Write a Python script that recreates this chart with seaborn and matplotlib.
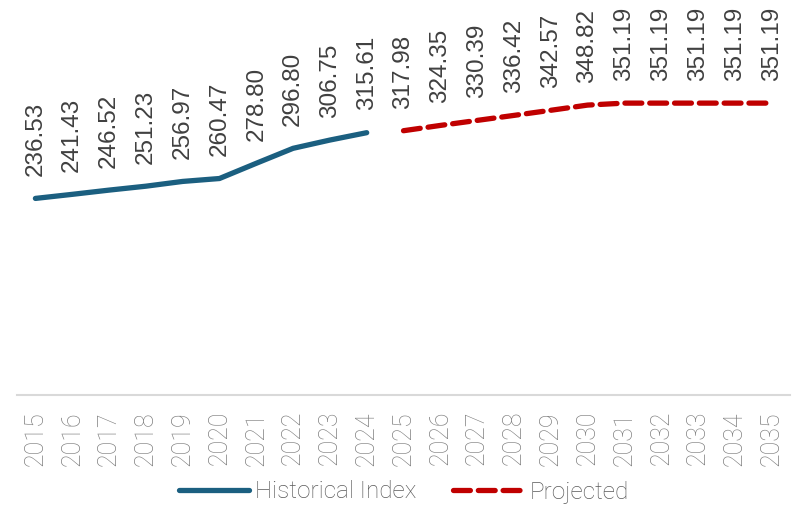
import matplotlib
matplotlib.use("Agg")
import matplotlib.pyplot as plt
import seaborn as sns
import pandas as pd

# Yearly index values: recorded history and the forward projection
hist_years = [2015, 2016, 2017, 2018, 2019, 2020, 2021, 2022, 2023, 2024]
hist_values = [236.53, 241.43, 246.52, 251.23, 256.97, 260.47, 278.80, 296.80, 306.75, 315.61]
proj_years = [2025, 2026, 2027, 2028, 2029, 2030, 2031, 2032, 2033, 2034, 2035]
proj_values = [317.98, 324.35, 330.39, 336.42, 342.57, 348.82, 351.19, 351.19, 351.19, 351.19, 351.19]

all_years = hist_years + proj_years
pos = {y: i for i, y in enumerate(all_years)}

hist_df = pd.DataFrame({"x": [pos[y] for y in hist_years], "value": hist_values})
proj_df = pd.DataFrame({"x": [pos[y] for y in proj_years], "value": proj_values})

sns.set_theme(style="white")
plt.rcParams["font.family"] = ["Liberation Sans", "DejaVu Sans"]
light_family = ["Roboto", "Liberation Sans", "DejaVu Sans"]

fig = plt.figure(figsize=(7.94, 5.05), dpi=100)
ax = fig.add_axes([17 / 794, 1 - 395 / 505, (790 - 17) / 794, (395 - 21) / 505])

blue = "#1b5f80"
red = "#c00000"

sns.lineplot(data=hist_df, x="x", y="value", ax=ax, color=blue, linewidth=3.8,
             solid_capstyle="round", label="Historical Index")
sns.lineplot(data=proj_df, x="x", y="value", ax=ax, color=red, linewidth=3.8,
             dashes=False, label="Projected")
proj_line = ax.lines[-1]
proj_line.set_dashes((3.2, 1.5))
proj_line.set_dash_capstyle("round")

# Rotated value labels above every point
for xs, vals in ((hist_df["x"], hist_values), (proj_df["x"], proj_values)):
    for x, v in zip(xs, vals):
        ax.annotate(f"{v:.2f}", (x, v), xytext=(0, 16), textcoords="offset points",
                    rotation=90, ha="center", va="bottom", fontsize=17.5,
                    color="#404040")

ax.set_xlim(-0.5, len(all_years) - 0.5)
ax.set_ylim(0, 450)
ax.set_xticks(range(len(all_years)))
ax.set_xticklabels([str(y) for y in all_years], rotation=90, fontsize=18,
                   color="#808080", family=light_family, fontweight="light")
ax.tick_params(axis="x", length=0, pad=11.5)
ax.set_yticks([])
ax.set_xlabel("")
ax.set_ylabel("")
for side in ("left", "right", "top"):
    ax.spines[side].set_visible(False)
ax.spines["bottom"].set_color("#d9d9d9")
ax.spines["bottom"].set_linewidth(1.5)

leg = ax.legend(loc="center", bbox_to_anchor=(404 / 794, 1 - 492 / 505),
                bbox_transform=fig.transFigure, ncol=2, frameon=False,
                prop={"family": light_family, "weight": "light", "size": 17.5},
                handlelength=2.9, handletextpad=0.25, columnspacing=1.5)
for t in leg.get_texts():
    t.set_color("#5a5a5a")
for h in leg.legend_handles:
    h.set_linewidth(3.8)
    h.set_dash_capstyle("round")
    h.set_solid_capstyle("round")

fig.savefig("out.png", dpi=100)
